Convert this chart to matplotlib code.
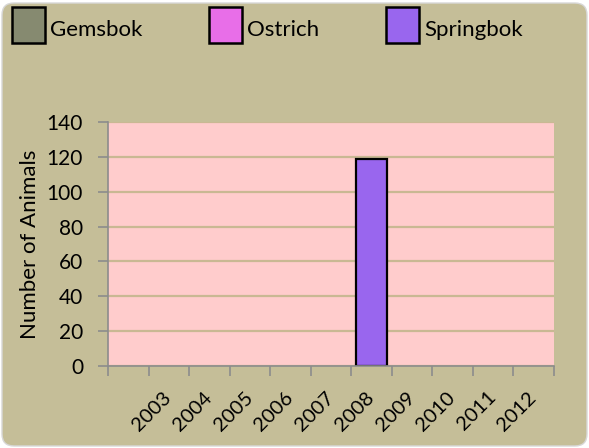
#!/usr/bin/env python3
"""Animal counts per year, Excel-style clustered column chart."""

import matplotlib

matplotlib.use("Agg")

import matplotlib.pyplot as plt
from matplotlib.legend_handler import HandlerPatch
from matplotlib.patches import FancyBboxPatch, Patch, Rectangle
from matplotlib.ticker import FixedLocator, MultipleLocator

# first category is blank in the source sheet
YEARS = ["", "2003", "2004", "2005", "2006", "2007", "2008", "2009", "2010", "2011", "2012"]
GEMSBOK = [0, 0, 0, 0, 0, 0, 0, 0, 0, 0, 0]
OSTRICH = [0, 0, 0, 0, 0, 0, 0, 0, 0, 0, 0]
SPRINGBOK = [0, 0, 0, 0, 0, 0, 119, 0, 0, 0, 0]

SERIES_NAMES = ["Gemsbok", "Ostrich", "Springbok"]
SERIES_COLORS = ["#868a70", "#e86ee8", "#9966ee"]

BG = "#c5be98"
PLOT_BG = "#ffcccc"
GRID = "#c9b893"
AXIS_GREY = "#8c8c8c"

plt.rcParams["font.family"] = ["Lato", "DejaVu Sans"]


def tall_key(legend, orig_handle, xdescent, ydescent, width, height, fontsize):
    # Excel legend keys are taller than the text and hang below the baseline
    return Rectangle((-xdescent, -5.0), width, 26.0)


W, H = 589, 448
fig = plt.figure(figsize=(W / 100, H / 100), dpi=100, facecolor="white")

frame = FancyBboxPatch(
    (0.02, 0.02), W / 100 - 0.04, H / 100 - 0.05,
    boxstyle="round,pad=0,rounding_size=0.12",
    transform=fig.dpi_scale_trans,
    facecolor=BG, edgecolor="#d8d8d8", linewidth=1.0, zorder=-10,
)
fig.add_artist(frame)

ax = fig.add_axes([108 / W, 1 - 366 / H, 446 / W, 244 / H])
ax.set_facecolor(PLOT_BG)

x = list(range(len(YEARS)))
for values, color in zip([GEMSBOK, OSTRICH, SPRINGBOK], SERIES_COLORS):
    ax.bar(
        x, values, width=0.75, color=color, edgecolor="black",
        linewidth=[1.6 if v > 0 else 0 for v in values], zorder=3,
    )

ax.set_xlim(-0.5, len(YEARS) - 0.5)
ax.set_ylim(0, 140)
ax.yaxis.set_major_locator(MultipleLocator(20))
ax.yaxis.grid(True, color=GRID, linewidth=1.6, zorder=1)
ax.set_axisbelow(True)

for side in ("top", "right"):
    ax.spines[side].set_visible(False)
for side in ("left", "bottom"):
    ax.spines[side].set_color(AXIS_GREY)
    ax.spines[side].set_linewidth(1.2)
    ax.spines[side].set_zorder(4)

# category labels at the centres (right-middle anchored), tick marks on the boundaries
ax.set_xticks(x)
ax.set_xticklabels(YEARS, rotation=45, ha="right", va="center", rotation_mode="anchor", fontsize=14.5)
ax.xaxis.set_minor_locator(FixedLocator([i - 0.5 for i in range(len(YEARS) + 1)]))
ax.tick_params(axis="x", which="major", length=0, pad=20.5)
ax.tick_params(axis="x", which="minor", length=7, width=1.2, color=AXIS_GREY)
ax.tick_params(axis="y", length=7, width=1.2, color=AXIS_GREY, labelsize=15, pad=11)

ax.set_ylabel("Number of Animals", fontsize=16, labelpad=5)

fig.legend(
    handles=[Patch(facecolor=c, edgecolor="black", linewidth=1.8, label=n)
             for n, c in zip(SERIES_NAMES, SERIES_COLORS)],
    handler_map={Patch: HandlerPatch(patch_func=tall_key)},
    loc="upper left",
    bbox_to_anchor=(12 / W, 1 - 17 / H),
    ncol=3,
    frameon=False,
    fontsize=16,
    borderpad=0,
    borderaxespad=0,
    handlelength=1.49,
    handleheight=1.2,
    handletextpad=0.22,
    columnspacing=3.0,
)

fig.savefig("out.png", dpi=100, facecolor="white")
